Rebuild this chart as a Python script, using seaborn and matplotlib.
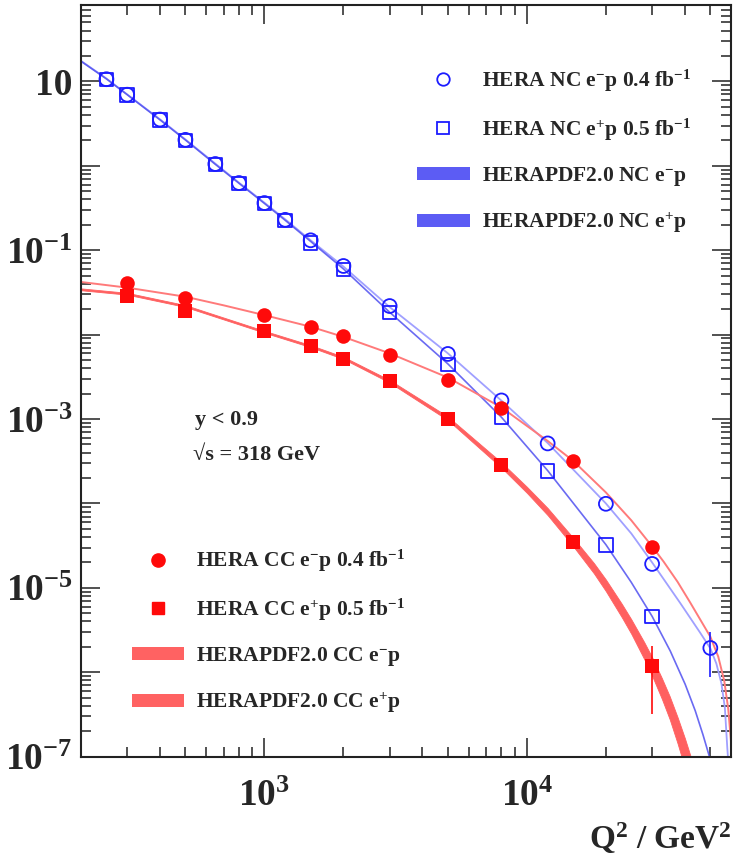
import numpy as np
import matplotlib
matplotlib.use("Agg")
import matplotlib.pyplot as plt
import matplotlib.ticker as mticker
from matplotlib.lines import Line2D
from matplotlib.patches import Patch
import seaborn as sns

# ---------------- measured cross sections dsigma/dQ2 [pb/GeV2] ----------------
nc_em_q2 = [250, 300, 400, 500, 650, 800, 1000, 1200, 1500, 2000, 3000, 5000,
            8000, 12000, 20000, 30000, 50000]
nc_em_xs = [10.6, 6.95, 3.53, 2.03, 1.05, 0.625, 0.362, 0.229, 0.131, 0.065,
            0.0218, 0.0059, 0.00166, 5.14e-4, 9.9e-5, 1.92e-5, 1.94e-6]
nc_em_err = [0, 0, 0, 0, 0, 0, 0, 0, 0, 0, 0, 0, 0, 0, 0, 0, 1.05e-6]

nc_ep_q2 = [250, 300, 400, 500, 650, 800, 1000, 1200, 1500, 2000, 3000, 5000,
            8000, 12000, 20000, 30000]
nc_ep_xs = [10.5, 6.9, 3.5, 2.0, 1.04, 0.62, 0.358, 0.226, 0.122, 0.059,
            0.0182, 0.0044, 0.00104, 2.41e-4, 3.24e-5, 4.56e-6]
nc_ep_err = [0] * 16

cc_em_q2 = [300, 500, 1000, 1500, 2000, 3000, 5000, 8000, 15000, 30000]
cc_em_xs = [0.041, 0.0274, 0.0173, 0.0124, 0.0096, 0.0058, 0.00293, 0.00135,
            3.15e-4, 3.08e-5]
cc_em_err = [0] * 10

cc_ep_q2 = [300, 500, 1000, 1500, 2000, 3000, 5000, 8000, 15000, 30000]
cc_ep_xs = [0.0286, 0.019, 0.011, 0.0073, 0.0052, 0.0028, 0.00101, 2.84e-4,
            3.53e-5, 1.19e-6]
cc_ep_err = [0, 0, 0, 0, 0, 0, 0, 0, 0, 0.87e-6]

# ---------------- HERAPDF2.0 predictions ----------------
nc_em_th_q2 = [200, 250, 300, 400, 500, 650, 800, 1000, 1200, 1500, 2000, 3000,
               5000, 8000, 12000, 20000, 25000, 30000, 38400, 45700, 50000,
               52700, 55100, 56800, 58000, 59100]
nc_em_th = [17.5, 10.8, 7.0, 3.55, 2.05, 1.06, 0.63, 0.365, 0.232, 0.131, 0.064,
            0.0212, 0.0060, 0.00165, 5.2e-4, 1.0e-4, 4.4e-5, 2.0e-5, 6.6e-6,
            2.95e-6, 1.92e-6, 1.27e-6, 7.4e-7, 3.8e-7, 1.3e-7, 5.6e-8]

nc_ep_th_q2 = [200, 250, 300, 400, 500, 650, 800, 1000, 1200, 1500, 2000, 3000,
               5000, 8000, 12000, 20000, 25000, 30000, 35200, 40100, 43800,
               46900, 50000]
nc_ep_th = [17.3, 10.7, 6.95, 3.5, 2.02, 1.04, 0.62, 0.358, 0.226, 0.127, 0.060,
            0.0184, 0.0045, 0.00105, 2.45e-4, 3.25e-5, 1.16e-5, 4.6e-6, 1.78e-6,
            7.2e-7, 3.5e-7, 1.81e-7, 9.2e-8]

cc_em_th_q2 = [200, 300, 500, 700, 1000, 1500, 2000, 3000, 5000, 8000, 12000,
               15000, 20000, 25000, 30000, 33200, 37500, 41900, 50000, 53600,
               56500, 58500, 60100]
cc_em_th = [0.042, 0.036, 0.0281, 0.0222, 0.0170, 0.0124, 0.0094, 0.0060, 0.0031,
            0.00137, 5.5e-4, 3.2e-4, 1.35e-4, 6.3e-5, 3.1e-5, 2.04e-5, 1.18e-5,
            6.7e-6, 2.64e-6, 1.53e-6, 7.9e-7, 3.7e-7, 1.37e-7]

cc_ep_th_q2 = [200, 300, 500, 700, 1000, 1500, 2000, 3000, 5000, 8000, 10000,
               12000, 15000, 18000, 20000, 23000, 25000, 28000, 30000, 32700,
               35000, 37500, 40000, 42000, 44000]
cc_ep_th_lo = [0.03354, 0.02974, 0.02125, 0.01511, 0.01053, 0.0071, 0.00514,
               0.0027, 0.000971, 2.65e-4, 1.335e-4, 7.26e-5, 3.12e-5, 1.486e-5,
               9.13e-6, 4.48e-6, 2.85e-6, 1.43e-6, 9.08e-7, 4.82e-7, 2.78e-7,
               1.44e-7, 7.35e-8, 4.26e-8, 2.5e-8]
cc_ep_th_hi = [0.03528, 0.03128, 0.02236, 0.0159, 0.01108, 0.0075, 0.00546,
               0.0029, 0.00107, 3.06e-4, 1.575e-4, 8.82e-5, 3.93e-5, 1.968e-5,
               1.254e-5, 6.46e-6, 4.23e-6, 2.27e-6, 1.507e-6, 8.49e-7, 5.2e-7,
               2.94e-7, 1.65e-7, 1.02e-7, 6.3e-8]

# ---------------- style ----------------
sns.set_style("ticks")
plt.rcParams.update({
    "font.family": ["Liberation Serif", "DejaVu Serif"],
    "font.weight": "bold",
    "mathtext.fontset": "custom",
    "mathtext.rm": "Liberation Serif:bold",
    "mathtext.it": "Liberation Serif:bold",
    "mathtext.bf": "Liberation Serif:bold",
    "mathtext.default": "rm",
    "axes.linewidth": 1.5,
    "axes.edgecolor": "#222222",
})

BLUE = "#1c1cff"
RED = "#ff0a0a"
NC_EM_LINE = "#a0a0ff"
NC_EP_LINE = "#5050f0"
CC_LINE = "#ff7a7a"
CC_BAND = "#ff6060"

fig = plt.figure(figsize=(7.43, 8.55), dpi=100)
ax = fig.add_axes([0.109, 0.115, 0.875, 0.879])
ax.set_xscale("log")
ax.set_yscale("log")

# predictions
sns.lineplot(x=nc_em_th_q2, y=nc_em_th, ax=ax, color=NC_EM_LINE, lw=1.3,
             estimator=None, sort=False, zorder=2)
sns.lineplot(x=nc_ep_th_q2, y=nc_ep_th, ax=ax, color=NC_EP_LINE, lw=1.2,
             alpha=0.85, estimator=None, sort=False, zorder=2)
sns.lineplot(x=cc_em_th_q2, y=cc_em_th, ax=ax, color=CC_LINE, lw=1.4,
             estimator=None, sort=False, zorder=2)
ax.fill_between(cc_ep_th_q2, cc_ep_th_lo, cc_ep_th_hi, color=CC_BAND,
                lw=0.6, edgecolor=CC_BAND, zorder=2)

# measurements
ax.errorbar(nc_em_q2, nc_em_xs, yerr=nc_em_err, fmt="none", ecolor=BLUE,
            elinewidth=1.2, zorder=3)
ax.errorbar(cc_ep_q2, cc_ep_xs, yerr=cc_ep_err, fmt="none", ecolor=RED,
            elinewidth=1.2, zorder=3)
sns.scatterplot(x=nc_ep_q2, y=nc_ep_xs, ax=ax, marker="s", s=95,
                facecolor="none", edgecolor=BLUE, linewidth=1.3, zorder=4)
sns.scatterplot(x=nc_em_q2, y=nc_em_xs, ax=ax, marker="o", s=100,
                facecolor="none", edgecolor=BLUE, linewidth=1.3, zorder=4)
sns.scatterplot(x=cc_em_q2, y=cc_em_xs, ax=ax, marker="o", s=110,
                color=RED, edgecolor=RED, linewidth=0, zorder=4)
sns.scatterplot(x=cc_ep_q2, y=cc_ep_xs, ax=ax, marker="s", s=95,
                color=RED, edgecolor=RED, linewidth=0, zorder=4)

# axes
ax.set_xlim(200, 60000)
ax.set_ylim(1e-7, 80)

ax.xaxis.set_major_locator(mticker.FixedLocator([1e3, 1e4]))
ax.xaxis.set_major_formatter(mticker.FixedFormatter([r"$10^{3}$", r"$10^{4}$"]))
ax.xaxis.set_minor_locator(mticker.LogLocator(base=10, subs=np.arange(2, 10), numticks=20))
ax.xaxis.set_minor_formatter(mticker.NullFormatter())

ydec = [10.0 ** k for k in range(-7, 2)]
ax.yaxis.set_major_locator(mticker.FixedLocator(ydec))


def ylab(v, pos):
    k = int(round(np.log10(v)))
    if k == 1:
        return "10"
    if k % 2 == 1:
        return r"$10^{%d}$" % k
    return ""


ax.yaxis.set_major_formatter(mticker.FuncFormatter(ylab))
ax.yaxis.set_minor_locator(mticker.LogLocator(base=10, subs=np.arange(2, 10), numticks=20))
ax.yaxis.set_minor_formatter(mticker.NullFormatter())

ax.tick_params(which="both", direction="in", top=True, right=True,
               color="#222222", width=1.1)
ax.tick_params(which="major", length=14)
ax.tick_params(which="minor", length=7.5)
ax.tick_params(axis="y", which="major", labelsize=27, pad=6)
ax.tick_params(axis="x", which="major", labelsize=27, pad=16)

ax.set_xlabel(r"Q$^{2}$ / GeV$^{2}$", fontsize=24, fontweight="bold")
ax.xaxis.set_label_coords(1.0, -0.085)
ax.xaxis.label.set_horizontalalignment("right")
ax.set_ylabel("")

ax.text(0.175, 0.448, "y < 0.9", transform=ax.transAxes, fontsize=16,
        fontweight="bold", va="center", ha="left")
ax.text(0.172, 0.401, "\u221as = 318 GeV", transform=ax.transAxes, fontsize=16,
        fontweight="bold", va="center", ha="left")

# legends
nc_handles = [
    Line2D([], [], ls="none", marker="o", ms=9, mfc="none", mec=BLUE, mew=1.3),
    Line2D([], [], ls="none", marker="s", ms=8.5, mfc="none", mec=BLUE, mew=1.3),
    Patch(facecolor="#5c5cf4", edgecolor="none"),
    Patch(facecolor="#5c5cf4", edgecolor="none"),
]
nc_labels = [r"HERA NC e$^{-}$p 0.4 fb$^{-1}$", r"HERA NC e$^{+}$p 0.5 fb$^{-1}$",
             r"HERAPDF2.0 NC e$^{-}$p", r"HERAPDF2.0 NC e$^{+}$p"]
cc_handles = [
    Line2D([], [], ls="none", marker="o", ms=9.5, mfc=RED, mec=RED),
    Line2D([], [], ls="none", marker="s", ms=8.5, mfc=RED, mec=RED),
    Patch(facecolor="#ff6262", edgecolor="none"),
    Patch(facecolor="#ff6262", edgecolor="none"),
]
cc_labels = [r"HERA CC e$^{-}$p 0.4 fb$^{-1}$", r"HERA CC e$^{+}$p 0.5 fb$^{-1}$",
             r"HERAPDF2.0 CC e$^{-}$p", r"HERAPDF2.0 CC e$^{+}$p"]

leg_kw = dict(frameon=False, fontsize=15.5, handlelength=2.45, handleheight=0.56,
              handletextpad=0.56, labelspacing=1.05, borderpad=0, borderaxespad=0,
              loc="upper left")
leg1 = ax.legend(nc_handles, nc_labels, bbox_to_anchor=(0.517, 0.917), **leg_kw)
ax.add_artist(leg1)
leg2 = ax.legend(cc_handles, cc_labels, bbox_to_anchor=(0.078, 0.278), **leg_kw)

fig.savefig("out.png", dpi=100)
